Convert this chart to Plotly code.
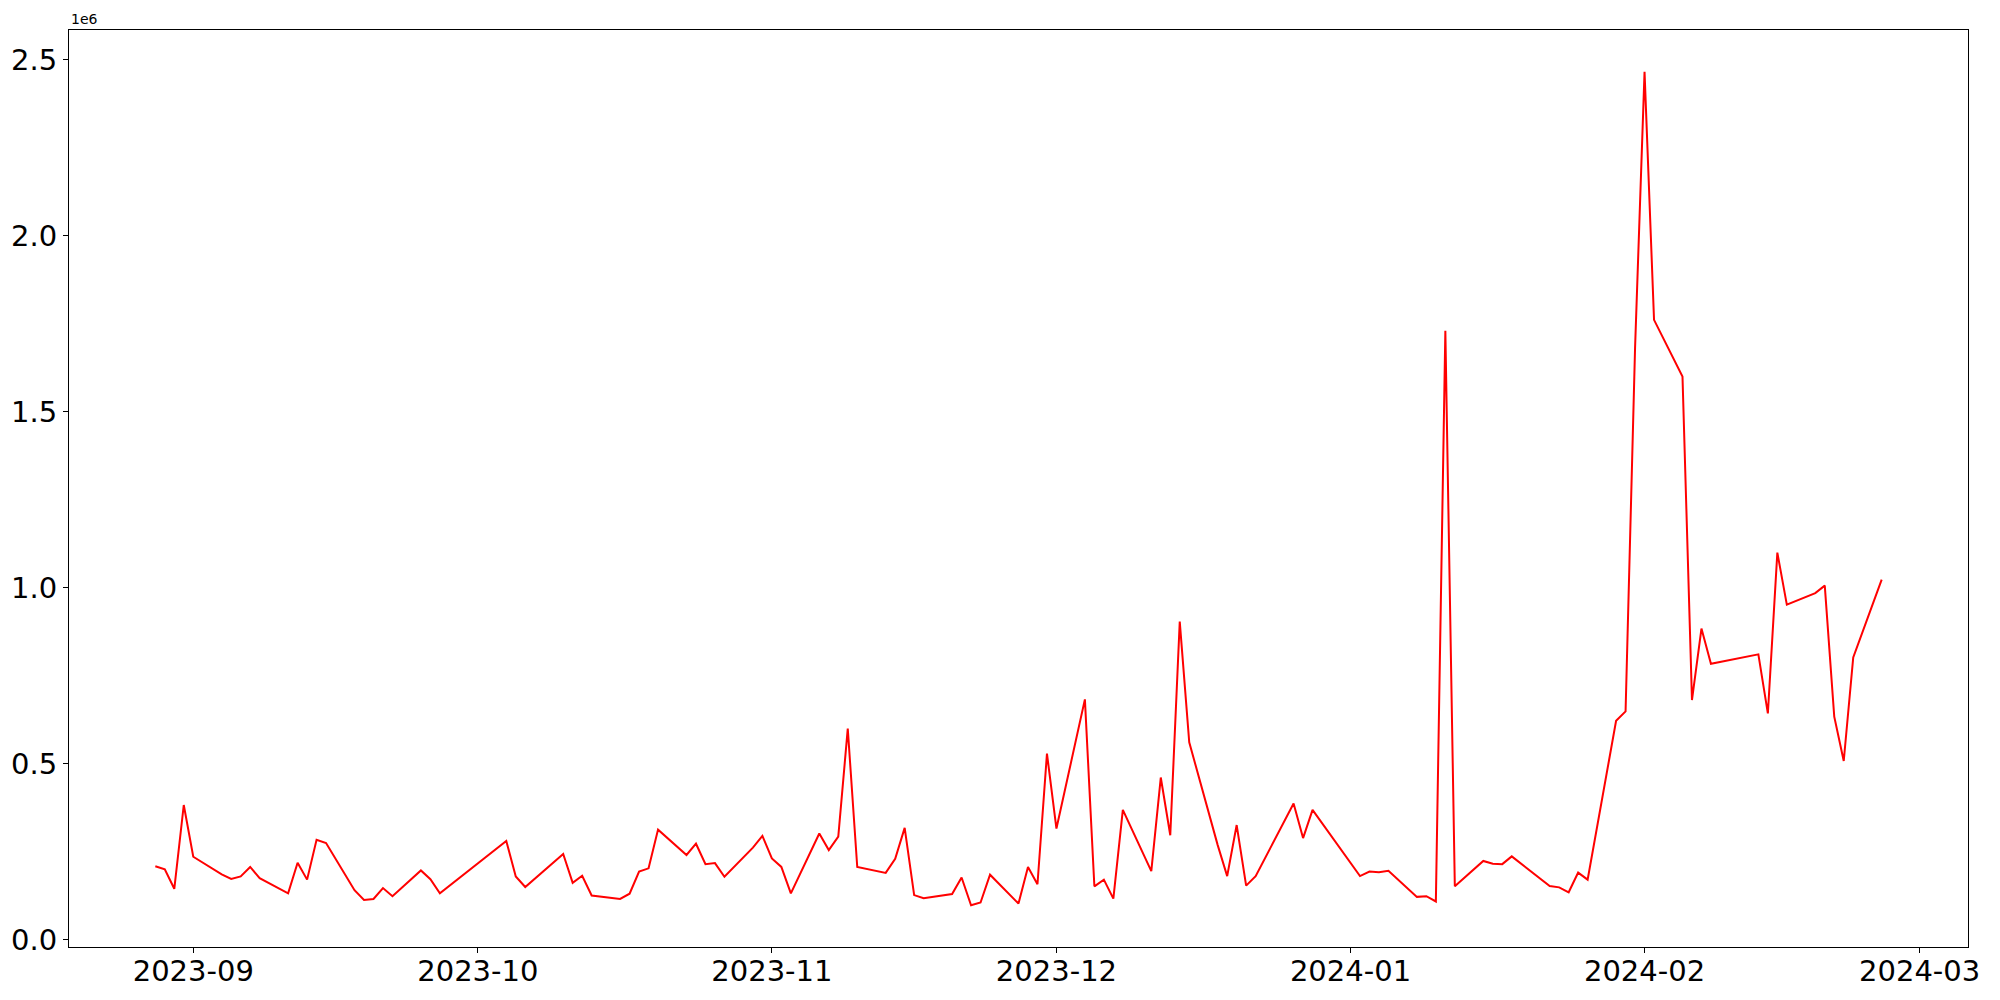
import numpy as np
import plotly.graph_objects as go

# trading days shown in the chart
dates = [
    "2023-08-28", "2023-08-29", "2023-08-30", "2023-08-31", "2023-09-01",
    "2023-09-04", "2023-09-05", "2023-09-06", "2023-09-07", "2023-09-08",
    "2023-09-11", "2023-09-12", "2023-09-13", "2023-09-14", "2023-09-15",
    "2023-09-18", "2023-09-19", "2023-09-20", "2023-09-21", "2023-09-22",
    "2023-09-25", "2023-09-26", "2023-09-27",
    "2023-10-04", "2023-10-05", "2023-10-06",
    "2023-10-10", "2023-10-11", "2023-10-12", "2023-10-13",
    "2023-10-16", "2023-10-17", "2023-10-18", "2023-10-19", "2023-10-20",
    "2023-10-23", "2023-10-24", "2023-10-25", "2023-10-26", "2023-10-27",
    "2023-10-30", "2023-10-31", "2023-11-01", "2023-11-02", "2023-11-03",
    "2023-11-06", "2023-11-07", "2023-11-08", "2023-11-09", "2023-11-10",
    "2023-11-13", "2023-11-14", "2023-11-15", "2023-11-16", "2023-11-17",
    "2023-11-20", "2023-11-21", "2023-11-22", "2023-11-23", "2023-11-24",
    "2023-11-27", "2023-11-28", "2023-11-29", "2023-11-30", "2023-12-01",
    "2023-12-04", "2023-12-05", "2023-12-06", "2023-12-07", "2023-12-08",
    "2023-12-11", "2023-12-12", "2023-12-13", "2023-12-14", "2023-12-15",
    "2023-12-18", "2023-12-19", "2023-12-20", "2023-12-21", "2023-12-22",
    "2023-12-26", "2023-12-27", "2023-12-28",
    "2024-01-02", "2024-01-03", "2024-01-04", "2024-01-05",
    "2024-01-08", "2024-01-09", "2024-01-10", "2024-01-11", "2024-01-12",
    "2024-01-15", "2024-01-16", "2024-01-17", "2024-01-18",
    "2024-01-22", "2024-01-23", "2024-01-24", "2024-01-25", "2024-01-26",
    "2024-01-29", "2024-01-30", "2024-01-31", "2024-02-01", "2024-02-02",
    "2024-02-05", "2024-02-06", "2024-02-07", "2024-02-08",
    "2024-02-13", "2024-02-14", "2024-02-15", "2024-02-16",
    "2024-02-19", "2024-02-20", "2024-02-21", "2024-02-22", "2024-02-23",
    "2024-02-26",
]

# values in millions
values_m = [
    0.208, 0.199, 0.144, 0.382, 0.235,
    0.185, 0.172, 0.179, 0.206, 0.174,
    0.131, 0.218, 0.170, 0.283, 0.274,
    0.140, 0.112, 0.115, 0.146, 0.123,
    0.196, 0.171, 0.131,
    0.280, 0.179, 0.149,
    0.243, 0.161, 0.181, 0.125,
    0.115, 0.130, 0.193, 0.202, 0.312,
    0.240, 0.272, 0.214, 0.217, 0.178,
    0.261, 0.294, 0.230, 0.206, 0.131,
    0.301, 0.254, 0.292, 0.599, 0.206,
    0.189, 0.229, 0.317, 0.126, 0.117,
    0.129, 0.176, 0.097, 0.105, 0.184,
    0.102, 0.206, 0.157, 0.528, 0.315,
    0.682, 0.151, 0.170, 0.116, 0.368,
    0.194, 0.460, 0.296, 0.903, 0.560,
    0.268, 0.180, 0.325, 0.153, 0.180,
    0.386, 0.288, 0.368,
    0.180, 0.193, 0.191, 0.195,
    0.121, 0.123, 0.108, 1.729, 0.151,
    0.223, 0.215, 0.214, 0.236,
    0.152, 0.148, 0.134, 0.190, 0.170,
    0.621, 0.648, 1.680, 2.465, 1.760,
    1.599, 0.680, 0.883, 0.783,
    0.810, 0.642, 1.099, 0.951,
    0.984, 1.005, 0.633, 0.507, 0.801,
    1.022,
]

y_ticks = [0, 0.5e6, 1.0e6, 1.5e6, 2.0e6, 2.5e6]
y_labels = ["0.0", "0.5", "1.0", "1.5", "2.0", "2.5"]

values = np.array(values_m) * 1e6

# matplotlib style 5% margins
x0 = np.datetime64(dates[0])
x1 = np.datetime64(dates[-1])
span = (x1 - x0).astype("timedelta64[m]")
pad = span * 0.05
x_range = [str(x0 - pad), str(x1 + pad)]
ypad = (values.max() - values.min()) * 0.05
y_range = [values.min() - ypad, values.max() + ypad]

fig = go.Figure()
fig.add_trace(go.Scatter(x=dates, y=values, mode="lines",
                         line=dict(color="red", width=2)))

axis_style = dict(showline=True, linecolor="black", linewidth=1.2, mirror=True,
                  showgrid=False, zeroline=False, ticks="outside", ticklen=5,
                  tickcolor="black", tickwidth=1.2, automargin=False,
                  tickfont=dict(family="DejaVu Sans", size=29, color="black"))

fig.update_xaxes(range=x_range, dtick="M1", tick0="2023-09-01",
                 tickformat="%Y-%m", ticklabelstandoff=-7, **axis_style)
fig.update_yaxes(range=y_range, tickvals=y_ticks, ticktext=y_labels, **axis_style)

fig.add_annotation(text="1e6", xref="paper", yref="paper", x=0, y=1,
                   xanchor="left", yanchor="bottom", showarrow=False, yshift=1,
                   font=dict(family="DejaVu Sans", size=14, color="black"))

# page body has an 8px margin, so the figure is sized to fit the window
fig.update_layout(width=1992, height=992, showlegend=False,
                  plot_bgcolor="white", paper_bgcolor="white",
                  margin=dict(l=61, r=32, t=22, b=53))

fig.write_html("out.html")
